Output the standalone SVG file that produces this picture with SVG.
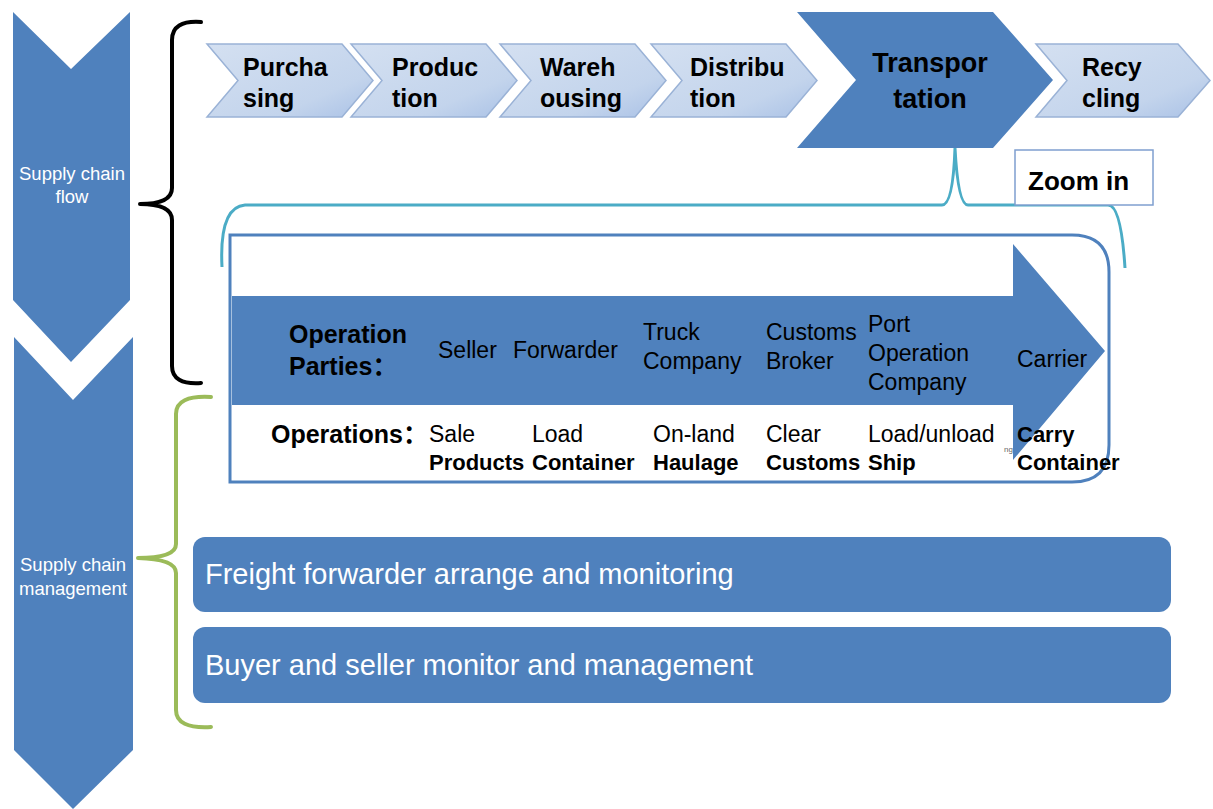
<svg xmlns="http://www.w3.org/2000/svg" width="1213" height="809" viewBox="0 0 1213 809">
<defs>
<linearGradient id="lg" x1="0" y1="0" x2="1" y2="1">
<stop offset="0" stop-color="#D4E0F1"/>
<stop offset="0.7" stop-color="#C3D4EC"/>
<stop offset="1" stop-color="#A9C1E6"/>
</linearGradient>
<style>
text{font-family:"Liberation Sans",Arial,"Noto Sans CJK SC",sans-serif;}
.chev{fill:url(#lg);stroke:#9AB2D6;stroke-width:1.5;}
.dark{fill:#4F81BD;}
.ct{font-size:25px;font-weight:bold;fill:#000;}
.side{font-size:18.5px;fill:#fff;text-anchor:middle;}
.hd{font-size:25px;font-weight:bold;fill:#000;}
.pt{font-size:23px;fill:#000;}
.or{font-size:23px;fill:#000;}
.ob{font-size:22px;font-weight:bold;fill:#000;}
.bar{font-size:29px;fill:#fff;}
.brace{fill:none;stroke-width:4;stroke-linecap:round;stroke-linejoin:round;}
</style>
</defs>
<rect width="1213" height="809" fill="#fff"/>

<g id="side-flow">
<path class="dark" d="M13,12 L71,69 L130,12 L130,300 L71,362 L13,300 Z"/>
<text class="side" x="72" y="180">Supply chain</text>
<text class="side" x="72" y="203">flow</text>
</g>
<g id="side-management">
<path class="dark" d="M14,337 L73,400 L133,337 L133,750 L73,809 L14,750 Z"/>
<text class="side" x="73" y="571">Supply chain</text>
<text class="side" x="73" y="595">management</text>
</g>

<g id="connectors">
<path class="brace" stroke="#000" d="M201,22 Q172,20 172,40 L172,188 Q172,204 140,204 Q172,204 172,220 L172,366 Q172,385 201,383"/>
<path class="brace" stroke="#9BBB59" d="M211,397 Q176,395 176,414 L176,544 Q176,558 138,558 Q176,559 176,573 L176,710 Q176,729 211,727"/>
<path fill="none" stroke="#4BACC6" stroke-width="3" d="M222,267 Q219,207 245,205 L942,205 Q953,205 955,148 Q958,205 968,205 L1108,205 Q1121,205 1125,268"/>
</g>

<g id="purchasing">
<path class="chev" d="M207,44 L342,44 L373,80.5 L342,117 L207,117 L238,80.5 Z"/>
<text class="ct" x="243" y="76">Purcha</text>
<text class="ct" x="243" y="107">sing</text>
</g>
<g id="production">
<path class="chev" d="M351,44 L486,44 L517,80.5 L486,117 L351,117 L382,80.5 Z"/>
<text class="ct" x="392" y="76">Produc</text>
<text class="ct" x="392" y="107">tion</text>
</g>
<g id="warehousing">
<path class="chev" d="M500,44 L635,44 L666,80.5 L635,117 L500,117 L531,80.5 Z"/>
<text class="ct" x="540" y="76">Wareh</text>
<text class="ct" x="540" y="107">ousing</text>
</g>
<g id="distribution">
<path class="chev" d="M651,44 L786,44 L817,80.5 L786,117 L651,117 L682,80.5 Z"/>
<text class="ct" x="690" y="76">Distribu</text>
<text class="ct" x="690" y="107">tion</text>
</g>
<g id="transportation">
<path class="dark" d="M797,12 L993,12 L1053,80 L993,148 L797,148 L856,80 Z"/>
<text class="ct" x="930" y="72" text-anchor="middle" style="font-size:27px">Transpor</text>
<text class="ct" x="930" y="108" text-anchor="middle" style="font-size:27px">tation</text>
</g>
<g id="recycling">
<path class="chev" d="M1036,44 L1178,44 L1210,80.5 L1178,117 L1036,117 L1067,80.5 Z"/>
<text class="ct" x="1082" y="76">Recy</text>
<text class="ct" x="1082" y="107">cling</text>
</g>

<g id="zoom-in">
<rect x="1015" y="150" width="138" height="55" fill="#fff" stroke="#7F9FCF" stroke-width="1.5"/>
<text class="ct" x="1028" y="190" style="font-size:26px">Zoom in</text>
</g>

<g id="operation-box">
<path d="M230,235 L1072,235 Q1109,235 1109,272 L1109,445 Q1109,482 1072,482 L230,482 Z" fill="#fff" stroke="#4F81BD" stroke-width="3"/>
<path class="dark" d="M232,296 L1013,296 L1013,244 L1105,351 L1013,460 L1013,405 L232,405 Z"/>
<text class="hd" x="289" y="343">Operation</text>
<text class="hd" x="289" y="375">Parties：</text>
<text class="pt" x="438" y="358">Seller</text>
<text class="pt" x="513" y="358">Forwarder</text>
<text class="pt" x="643" y="340">Truck</text>
<text class="pt" x="643" y="369">Company</text>
<text class="pt" x="766" y="340">Customs</text>
<text class="pt" x="766" y="369">Broker</text>
<text class="pt" x="868" y="332">Port</text>
<text class="pt" x="868" y="361">Operation</text>
<text class="pt" x="868" y="390">Company</text>
<text class="pt" x="1017" y="367">Carrier</text>
<text class="hd" x="271" y="443">Operations：</text>
<text class="or" x="429" y="442">Sale</text>
<text class="ob" x="429" y="470">Products</text>
<text class="or" x="532" y="442">Load</text>
<text class="ob" x="532" y="470">Container</text>
<text class="or" x="653" y="442">On-land</text>
<text class="ob" x="653" y="470">Haulage</text>
<text class="or" x="766" y="442">Clear</text>
<text class="ob" x="766" y="470">Customs</text>
<text class="or" x="868" y="442">Load/unload</text>
<text class="ob" x="868" y="470">Ship</text>
<text class="ob" x="1017" y="442">Carry</text>
<text x="1004" y="452" style="font-size:8px;fill:#666">ng</text>
<text class="ob" x="1017" y="470">Container</text>
</g>

<g id="freight-forwarder">
<rect class="dark" x="193" y="537" width="978" height="75" rx="12"/>
<text class="bar" x="205" y="584">Freight forwarder arrange and monitoring</text>
</g>
<g id="buyer-seller">
<rect class="dark" x="193" y="627" width="978" height="76" rx="12"/>
<text class="bar" x="205" y="675">Buyer and seller monitor and management</text>
</g>
</svg>
